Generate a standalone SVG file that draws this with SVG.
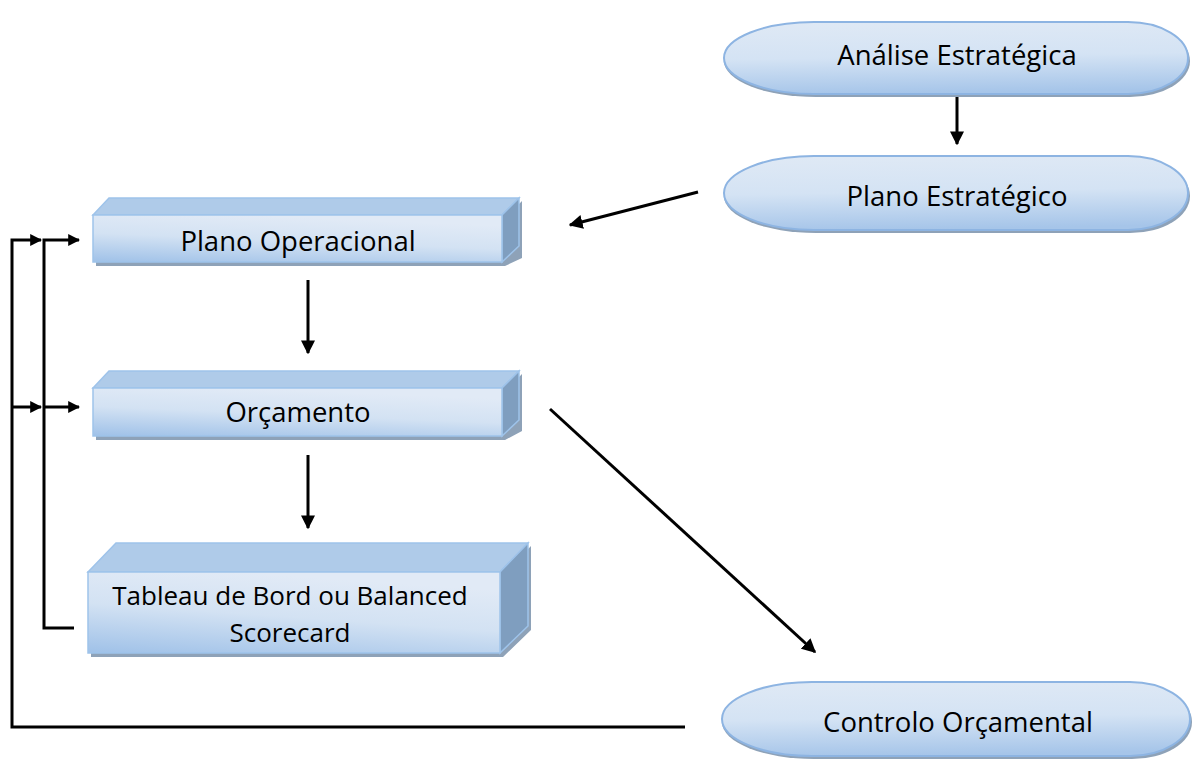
<svg xmlns="http://www.w3.org/2000/svg" width="1195" height="762" viewBox="0 0 1195 762">
<defs>
<linearGradient id="gFront" x1="0" y1="1" x2="0.35" y2="0">
<stop offset="0" stop-color="#9fc1e8"/>
<stop offset="0.55" stop-color="#d3e2f3"/>
<stop offset="1" stop-color="#e1eaf6"/>
</linearGradient>
<linearGradient id="gCap" x1="0.2" y1="0" x2="0.3" y2="1">
<stop offset="0" stop-color="#dfe9f5"/>
<stop offset="0.5" stop-color="#d4e3f4"/>
<stop offset="1" stop-color="#a6c5e9"/>
</linearGradient>
<marker id="ah" viewBox="0 0 10 10" refX="9" refY="5" markerWidth="14" markerHeight="14" markerUnits="userSpaceOnUse" orient="auto">
<path d="M0,0 L10,5 L0,10 Z" fill="#000"/>
</marker>
<marker id="ahs" viewBox="0 0 10 10" refX="9" refY="5" markerWidth="12" markerHeight="12" markerUnits="userSpaceOnUse" orient="auto">
<path d="M0,0 L10,5 L0,10 Z" fill="#000"/>
</marker>
</defs>
<style>
.t{font-family:"Open Sans","Noto Sans","Liberation Sans",sans-serif;font-size:27.5px;fill:#000;text-anchor:middle}
.t2{font-size:26px}
.front{fill:url(#gFront);stroke:#9ec3ea;stroke-width:1.5}
.top{fill:#afcbe9;stroke:#9ec3ea;stroke-width:1.5}
.side{fill:#7f9ebf;stroke:#9ec3ea;stroke-width:1.5}
.shadow{fill:#8ea2b8}
.cap{fill:url(#gCap);stroke:#8db4e2;stroke-width:2}
.capsh{fill:#8ea2b8}
.ln{fill:none;stroke:#000;stroke-width:3}
</style>

<g id="analise">
<path class="capsh" d="M816,25 H1130 A60,36 0 0 1 1130,97 H816 A92,36 0 0 1 816,25 Z"/>
<path class="cap" d="M814,22 H1128 A60,36 0 0 1 1128,94 H814 A90,36 0 0 1 814,22 Z"/>
<text class="t" x="957" y="65">Análise Estratégica</text>
</g>

<g id="plano-estrategico">
<path class="capsh" d="M816,159 H1130 A60,37 0 0 1 1130,233 H816 A92,37 0 0 1 816,159 Z"/>
<path class="cap" d="M814,156 H1128 A60,37 0 0 1 1128,230 H814 A90,37 0 0 1 814,156 Z"/>
<text class="t" x="957" y="206">Plano Estratégico</text>
</g>

<g id="controlo">
<path class="capsh" d="M814,685 H1132 A60,37 0 0 1 1132,759 H814 A92,37 0 0 1 814,685 Z"/>
<path class="cap" d="M812,682 H1130 A60,37 0 0 1 1130,756 H812 A90,37 0 0 1 812,682 Z"/>
<text class="t" x="958" y="732">Controlo Orçamental</text>
</g>

<g id="plano-operacional">
<path class="shadow" d="M96,218 H505 L522,201 V258 L505,266 H96 Z"/>
<path class="top" d="M93,215 L109,198 H519 L502,215 Z"/>
<path class="side" d="M502,215 L519,198 V246 L502,262 Z"/>
<rect class="front" x="93" y="215" width="409" height="47"/>
<text class="t" x="298" y="251">Plano Operacional</text>
</g>

<g id="orcamento">
<path class="shadow" d="M96,391 H505 L522,374 V431 L505,440 H96 Z"/>
<path class="top" d="M93,388 L109,371 H519 L502,388 Z"/>
<path class="side" d="M502,388 L519,371 V420 L502,436 Z"/>
<rect class="front" x="93" y="388" width="409" height="48"/>
<text class="t" x="298" y="422">Orçamento</text>
</g>

<g id="tableau">
<path class="shadow" d="M91,575 H503 L531,546 V630 L503,657 H91 Z"/>
<path class="top" d="M88,572 L116,543 H528 L500,572 Z"/>
<path class="side" d="M500,572 L528,543 V626 L500,653 Z"/>
<rect class="front" x="88" y="572" width="412" height="81"/>
<text class="t t2" x="290" y="605">Tableau de Bord ou Balanced</text>
<text class="t t2" x="290" y="642">Scorecard</text>
</g>

<g id="connectors">
<line class="ln" x1="957" y1="97" x2="957" y2="144" marker-end="url(#ah)"/>
<line class="ln" x1="698" y1="192" x2="570" y2="225" marker-end="url(#ah)"/>
<line class="ln" x1="308" y1="280" x2="308" y2="353" marker-end="url(#ah)"/>
<line class="ln" x1="308" y1="455" x2="308" y2="528" marker-end="url(#ah)"/>
<line class="ln" x1="550" y1="409" x2="815" y2="652" marker-end="url(#ah)"/>
<path class="ln" d="M685,727 H12 V240 H41" marker-end="url(#ahs)"/>
<line class="ln" x1="12" y1="407" x2="41" y2="407" marker-end="url(#ahs)"/>
<path class="ln" d="M74,628 H44 V240 H79" marker-end="url(#ahs)"/>
<line class="ln" x1="44" y1="407" x2="79" y2="407" marker-end="url(#ahs)"/>
</g>
</svg>
